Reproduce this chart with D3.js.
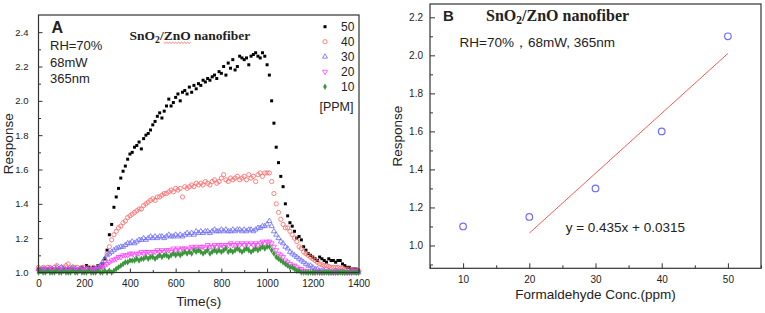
<!DOCTYPE html>
<html>
<head>
<meta charset="utf-8">
<script src="https://cdn.jsdelivr.net/npm/d3@7"></script>
<style>
  body { margin: 0; background: #fff; }
  svg { display: block; }
  text { font-family: "Liberation Sans", Arial, sans-serif; fill: #222; }
</style>
</head>
<body>
<svg id="chart" width="765" height="313"></svg>
<script>
// ---- panel A: response vs time, one reading every 10 s ----
const sampleStep = 10;
const times = d3.range(0, 1401, sampleStep);

const ppm50 = [
  1.02,1.01,1.02,1.01,1.02,1.01,1.02,1.01,1.02,1.02,
  1.01,1.02,1.01,1.02,1.02,1.01,1.02,1.01,1.02,1.03,
  1.02,1.04,1.03,1.02,1.03,1.02,1.04,1.03,1.05,1.08,
  1.13,1.22,1.28,1.38,1.44,1.49,1.55,1.59,1.62,1.66,
  1.69,1.70,1.73,1.74,1.76,1.72,1.78,1.80,1.81,1.83,
  1.86,1.88,1.91,1.93,1.90,1.94,1.97,2.01,1.97,1.99,
  2.02,2.04,2.00,2.05,2.06,2.04,2.08,2.05,2.09,2.07,
  2.10,2.09,2.12,2.11,2.13,2.12,2.14,2.15,2.13,2.17,
  2.16,2.20,2.15,2.22,2.19,2.24,2.18,2.20,2.26,2.25,
  2.24,2.25,2.21,2.26,2.27,2.28,2.26,2.25,2.28,2.26,
  2.21,2.15,2.00,1.87,1.73,1.64,1.56,1.50,1.40,1.33,
  1.29,1.27,1.24,1.20,1.21,1.19,1.15,1.13,1.11,1.10,
  1.09,1.08,1.07,1.09,1.08,1.07,1.06,1.08,1.07,1.07,
  1.06,1.07,1.07,1.05,1.04,1.03,1.03,1.02,1.02,1.02,
  1.01
];
const ppm40 = [
  1.03,1.02,1.03,1.02,1.03,1.03,1.02,1.03,1.04,1.02,
  1.03,1.03,1.04,1.05,1.03,1.02,1.03,1.03,1.02,1.03,
  1.03,1.02,1.03,1.02,1.03,1.02,1.03,1.03,1.04,1.07,
  1.11,1.15,1.19,1.22,1.24,1.26,1.27,1.29,1.30,1.32,
  1.33,1.34,1.35,1.36,1.37,1.37,1.39,1.40,1.41,1.42,
  1.43,1.42,1.44,1.44,1.45,1.46,1.46,1.47,1.48,1.47,
  1.49,1.48,1.49,1.44,1.50,1.49,1.50,1.51,1.50,1.52,
  1.51,1.52,1.51,1.53,1.52,1.51,1.53,1.54,1.52,1.53,
  1.55,1.57,1.54,1.53,1.55,1.54,1.55,1.56,1.54,1.55,
  1.56,1.54,1.57,1.55,1.56,1.53,1.57,1.58,1.56,1.58,
  1.58,1.58,1.53,1.46,1.40,1.35,1.31,1.28,1.26,1.26,
  1.24,1.22,1.20,1.18,1.15,1.14,1.12,1.11,1.10,1.09,
  1.08,1.07,1.06,1.05,1.045,1.04,1.04,1.035,1.03,1.03,
  1.03,1.03,1.025,1.025,1.02,1.02,1.02,1.015,1.015,1.01,
  1.01
];
const ppm30 = [
  1.02,1.01,1.02,1.02,1.01,1.02,1.02,1.01,1.03,1.02,
  1.03,1.02,1.01,1.02,1.02,1.03,1.02,1.01,1.02,1.02,
  1.01,1.02,1.02,1.01,1.02,1.02,1.03,1.04,1.06,1.08,
  1.10,1.11,1.12,1.13,1.14,1.145,1.15,1.15,1.16,1.17,
  1.17,1.18,1.17,1.18,1.19,1.19,1.20,1.19,1.20,1.21,
  1.20,1.21,1.20,1.21,1.21,1.20,1.21,1.22,1.21,1.21,
  1.22,1.21,1.22,1.21,1.22,1.23,1.22,1.23,1.22,1.24,
  1.23,1.24,1.23,1.24,1.24,1.23,1.24,1.25,1.24,1.24,
  1.25,1.24,1.25,1.24,1.24,1.25,1.24,1.25,1.25,1.24,
  1.25,1.24,1.25,1.25,1.24,1.25,1.26,1.26,1.27,1.27,
  1.28,1.30,1.27,1.24,1.22,1.20,1.18,1.17,1.15,1.14,
  1.12,1.11,1.10,1.09,1.08,1.07,1.06,1.05,1.04,1.04,
  1.03,1.02,1.02,1.01,1.01,1.01,1.00,1.01,1.00,1.00,
  1.01,1.00,1.00,1.01,1.00,1.00,1.00,1.01,1.00,1.00,
  1.00
];
const ppm20 = [
  1.01,1.02,1.01,1.01,1.02,1.01,1.02,1.01,1.01,1.02,
  1.01,1.01,1.02,1.01,1.01,1.02,1.01,1.01,1.02,1.01,
  1.01,1.02,1.01,1.01,1.02,1.01,1.02,1.02,1.03,1.04,
  1.05,1.06,1.07,1.075,1.08,1.09,1.09,1.10,1.10,1.10,
  1.11,1.11,1.10,1.11,1.11,1.12,1.11,1.12,1.12,1.11,
  1.12,1.12,1.13,1.12,1.13,1.12,1.13,1.13,1.12,1.14,
  1.13,1.14,1.13,1.14,1.14,1.13,1.14,1.15,1.14,1.15,
  1.14,1.15,1.15,1.14,1.16,1.15,1.15,1.16,1.15,1.16,
  1.16,1.15,1.16,1.16,1.17,1.16,1.16,1.17,1.16,1.17,
  1.16,1.17,1.16,1.17,1.16,1.17,1.16,1.17,1.18,1.17,
  1.18,1.18,1.17,1.15,1.13,1.11,1.10,1.09,1.07,1.06,
  1.05,1.04,1.04,1.03,1.02,1.02,1.01,1.01,1.00,1.01,
  1.00,1.00,1.01,1.00,1.00,1.00,1.01,1.00,1.00,1.00,
  1.00,1.00,1.01,1.00,1.00,1.00,1.00,1.00,1.01,1.00,
  1.00
];
const ppm10 = [
  1.00,1.01,1.00,1.00,1.01,1.00,1.00,1.00,1.01,1.00,
  1.00,1.01,1.00,1.00,1.00,1.01,1.00,1.00,1.01,1.00,
  1.00,1.00,1.01,1.00,1.00,1.00,1.01,1.00,1.00,1.01,
  1.00,1.01,1.00,1.01,1.02,1.03,1.04,1.05,1.06,1.06,
  1.07,1.07,1.07,1.08,1.07,1.08,1.08,1.09,1.08,1.09,
  1.09,1.08,1.09,1.10,1.09,1.10,1.10,1.09,1.10,1.11,
  1.10,1.11,1.10,1.11,1.12,1.11,1.12,1.11,1.13,1.12,
  1.13,1.12,1.11,1.12,1.13,1.11,1.12,1.13,1.12,1.13,
  1.12,1.13,1.14,1.12,1.13,1.12,1.13,1.14,1.13,1.12,
  1.13,1.14,1.13,1.12,1.13,1.14,1.13,1.14,1.15,1.14,
  1.15,1.15,1.13,1.11,1.09,1.08,1.07,1.06,1.05,1.04,
  1.03,1.03,1.02,1.01,1.01,1.00,1.00,1.00,1.00,1.00,
  1.00,1.00,1.00,1.00,1.00,1.00,1.00,1.00,1.00,1.00,
  1.00,1.00,1.00,1.00,1.00,1.00,1.00,1.00,1.00,1.00,
  1.00
];

const timeTicks = [0, 200, 400, 600, 800, 1000, 1200, 1400];
const timeMinorTicks = [100, 300, 500, 700, 900, 1100, 1300];
const respTicksA = [1.0, 1.2, 1.4, 1.6, 1.8, 2.0, 2.2, 2.4];
const respMinorTicksA = [1.1, 1.3, 1.5, 1.7, 1.9, 2.1, 2.3];

// ---- panel B: response vs concentration ----
const concB = [10, 20, 30, 40, 50];
const respB = [1.10, 1.15, 1.30, 1.60, 2.10];
const fitFrom = 20; // linear fit uses 20-50 ppm
const concTicks = [10, 20, 30, 40, 50];
const concMinorTicks = [5, 15, 25, 35, 45, 55];
const respTicksB = [1.0, 1.2, 1.4, 1.6, 1.8, 2.0, 2.2];
const respMinorTicksB = [0.9, 1.1, 1.3, 1.5, 1.7, 1.9, 2.1];

const svg = d3.select("#chart");
const frameColor = "#333";
const fmt1 = d3.format(".1f");
const fmtInt = d3.format("d");

function styleAxis(g, fontSize) {
  g.select(".domain").remove();
  g.selectAll("line").attr("stroke", frameColor).attr("stroke-width", 1);
  g.selectAll("text").style("font-size", fontSize + "px").attr("fill", "#222");
}

// ================= panel A =================
const A = { left: 38.5, right: 359, top: 15, bottom: 272.5 };
const xA = d3.scaleLinear().domain([0, 1400]).range([A.left, 358.5]);
const yA = d3.scaleLinear().domain([1.0, 2.5]).range([A.bottom, A.top]);

const gA = svg.append("g");

gA.append("g")
  .attr("transform", "translate(0," + A.bottom + ")")
  .call(d3.axisBottom(xA).tickValues(timeTicks).tickFormat(fmtInt).tickSizeInner(-4).tickSizeOuter(0).tickPadding(7))
  .call(styleAxis, 10);
gA.append("g")
  .attr("transform", "translate(0," + A.bottom + ")")
  .call(d3.axisBottom(xA).tickValues(timeMinorTicks).tickSizeInner(-2.5).tickSizeOuter(0).tickFormat(""))
  .call(styleAxis, 10);
gA.append("g")
  .attr("transform", "translate(" + A.left + ",0)")
  .call(d3.axisLeft(yA).tickValues(respTicksA).tickFormat(fmt1).tickSizeInner(-4).tickSizeOuter(0).tickPadding(10))
  .call(styleAxis, 9.5);
gA.append("g")
  .attr("transform", "translate(" + A.left + ",0)")
  .call(d3.axisLeft(yA).tickValues(respMinorTicksA).tickSizeInner(-2.5).tickSizeOuter(0).tickFormat(""))
  .call(styleAxis, 9.5);

const seriesA = [
  { label: "50", values: ppm50, type: d3.symbolSquare, size: 9, fill: "#000", stroke: "none" },
  { label: "40", values: ppm40, type: d3.symbolCircle, size: 14, fill: "none", stroke: "#ff6464" },
  { label: "30", values: ppm30, type: d3.symbolTriangle, size: 11, fill: "none", stroke: "#6a6aff" },
  { label: "20", values: ppm20, type: d3.symbolTriangle, size: 11, fill: "none", stroke: "#ff3cff", flip: true },
  { label: "10", values: ppm10, type: d3.symbolDiamond, size: 12, fill: "#3a963a", stroke: "none" }
];

seriesA.forEach((s) => {
  const sym = d3.symbol().type(s.type).size(s.size);
  gA.append("g")
    .selectAll("path")
    .data(times.map((t, i) => ({ t: t, v: s.values[i] })))
    .join("path")
    .attr("transform", (d) => "translate(" + xA(d.t) + "," + yA(d.v) + ")" + (s.flip ? " rotate(180)" : ""))
    .attr("d", sym)
    .attr("fill", s.fill)
    .attr("stroke", s.stroke)
    .attr("stroke-width", 0.8);
});

gA.append("rect")
  .attr("x", A.left).attr("y", A.top)
  .attr("width", A.right - A.left).attr("height", A.bottom - A.top)
  .attr("fill", "none").attr("stroke", frameColor).attr("stroke-width", 1.2);

// legend
const legA = gA.append("g");
seriesA.forEach((s, i) => {
  const cy = 26.7 + i * 15;
  legA.append("path")
    .attr("transform", "translate(325," + cy + ")" + (s.flip ? " rotate(180)" : ""))
    .attr("d", d3.symbol().type(s.type).size(s.size)())
    .attr("fill", s.fill).attr("stroke", s.stroke).attr("stroke-width", 0.8);
  legA.append("text").attr("x", 341).attr("y", cy + 4.3)
    .style("font-size", "12px").text(s.label);
});
legA.append("text").attr("x", 353.5).attr("y", 111).attr("text-anchor", "end")
  .style("font-size", "12.5px").text("[PPM]");

gA.append("text").attr("x", 51.5).attr("y", 33.3)
  .style("font-size", "16px").style("font-weight", "bold").text("A");
[["RH=70%", 49.5], ["68mW", 66.5], ["365nm", 83]].forEach(([t, y]) => {
  gA.append("text").attr("x", 50).attr("y", y).style("font-size", "13px").text(t);
});

function addTitle(g, x, y, size) {
  const t = g.append("text").attr("x", x).attr("y", y)
    .style("font-family", "'Liberation Serif', 'Times New Roman', serif")
    .style("font-size", size + "px").style("font-weight", "bold");
  t.append("tspan").text("SnO");
  t.append("tspan").attr("dy", size * 0.22).style("font-size", (size * 0.72) + "px").text("2");
  t.append("tspan").attr("dy", -size * 0.22).text("/ZnO nanofiber");
  return t;
}

const titleA = addTitle(gA, 129.5, 40, 13.5);
// red wavy spell-check underline under "ZnO"
{
  const node = titleA.node();
  const x0 = node.getExtentOfChar(5).x;
  const e = node.getExtentOfChar(7);
  const x1 = e.x + e.width;
  const pts = d3.range(x0, x1 + 0.1, 1.5).map((x, i) => [x, 42.6 + (i % 2 ? 0.8 : -0.4)]);
  gA.append("path").attr("d", d3.line()(pts))
    .attr("fill", "none").attr("stroke", "#f06060").attr("stroke-width", 0.8);
}

gA.append("text").attr("x", (A.left + A.right) / 2).attr("y", 305.5)
  .attr("text-anchor", "middle").style("font-size", "13.5px").text("Time(s)");
gA.append("text")
  .attr("transform", "translate(12.5," + (A.top + A.bottom) / 2 + ") rotate(-90)")
  .attr("text-anchor", "middle").style("font-size", "13.5px").text("Response");

// ================= panel B =================
const B = { left: 430, right: 761, top: 4, bottom: 268.3 };
const xB = d3.scaleLinear().domain([5, 55]).range([B.left, B.right]);
const yB = d3.scaleLinear().domain([0.88, 2.27]).range([B.bottom, B.top]);

const gB = svg.append("g");

gB.append("g")
  .attr("transform", "translate(0," + B.bottom + ")")
  .call(d3.axisBottom(xB).tickValues(concTicks).tickFormat(fmtInt).tickSizeInner(-5).tickSizeOuter(0).tickPadding(8))
  .call(styleAxis, 10);
gB.append("g")
  .attr("transform", "translate(0," + B.bottom + ")")
  .call(d3.axisBottom(xB).tickValues(concMinorTicks).tickSizeInner(-3).tickSizeOuter(0).tickFormat(""))
  .call(styleAxis, 10);
gB.append("g")
  .attr("transform", "translate(" + B.left + ",0)")
  .call(d3.axisLeft(yB).tickValues(respTicksB).tickFormat(fmt1).tickSizeInner(-5).tickSizeOuter(0).tickPadding(7))
  .call(styleAxis, 10);
gB.append("g")
  .attr("transform", "translate(" + B.left + ",0)")
  .call(d3.axisLeft(yB).tickValues(respMinorTicksB).tickSizeInner(-3).tickSizeOuter(0).tickFormat(""))
  .call(styleAxis, 10);

// least squares fit over the 20-50 ppm points
const fitPts = concB.map((c, i) => [c, respB[i]]).filter((d) => d[0] >= fitFrom);
const mx = d3.mean(fitPts, (d) => d[0]);
const my = d3.mean(fitPts, (d) => d[1]);
const slope = d3.sum(fitPts, (d) => (d[0] - mx) * (d[1] - my)) / d3.sum(fitPts, (d) => (d[0] - mx) ** 2);
const intercept = my - slope * mx;
const fitEnds = d3.extent(fitPts, (d) => d[0]).map((c) => [c, intercept + slope * c]);

gB.append("path")
  .attr("d", d3.line().x((d) => xB(d[0])).y((d) => yB(d[1]))(fitEnds))
  .attr("fill", "none").attr("stroke", "#ff5a5a").attr("stroke-width", 1);

gB.append("g")
  .selectAll("circle")
  .data(concB.map((c, i) => ({ c: c, r: respB[i] })))
  .join("circle")
  .attr("cx", (d) => xB(d.c))
  .attr("cy", (d) => yB(d.r))
  .attr("r", 3.3)
  .attr("fill", "none")
  .attr("stroke", "#6e6eff")
  .attr("stroke-width", 1.2);

gB.append("rect")
  .attr("x", B.left).attr("y", B.top)
  .attr("width", B.right - B.left).attr("height", B.bottom - B.top)
  .attr("fill", "none").attr("stroke", frameColor).attr("stroke-width", 1.2);

gB.append("text").attr("x", 443).attr("y", 20.7)
  .style("font-size", "15px").style("font-weight", "bold").text("B");
addTitle(gB, 486, 20.7, 16);
gB.append("text").attr("x", 459.5).attr("y", 46.7)
  .style("font-size", "13.5px").text("RH=70%，68mW, 365nm");
gB.append("text").attr("x", 565.7).attr("y", 232)
  .style("font-size", "13.5px").text("y = 0.435x + 0.0315");

gB.append("text").attr("x", (B.left + B.right) / 2).attr("y", 299)
  .attr("text-anchor", "middle").style("font-size", "13.5px").text("Formaldehyde Conc.(ppm)");
gB.append("text")
  .attr("transform", "translate(402," + (B.top + B.bottom) / 2 + ") rotate(-90)")
  .attr("text-anchor", "middle").style("font-size", "13.5px").text("Response");
</script>
</body>
</html>
